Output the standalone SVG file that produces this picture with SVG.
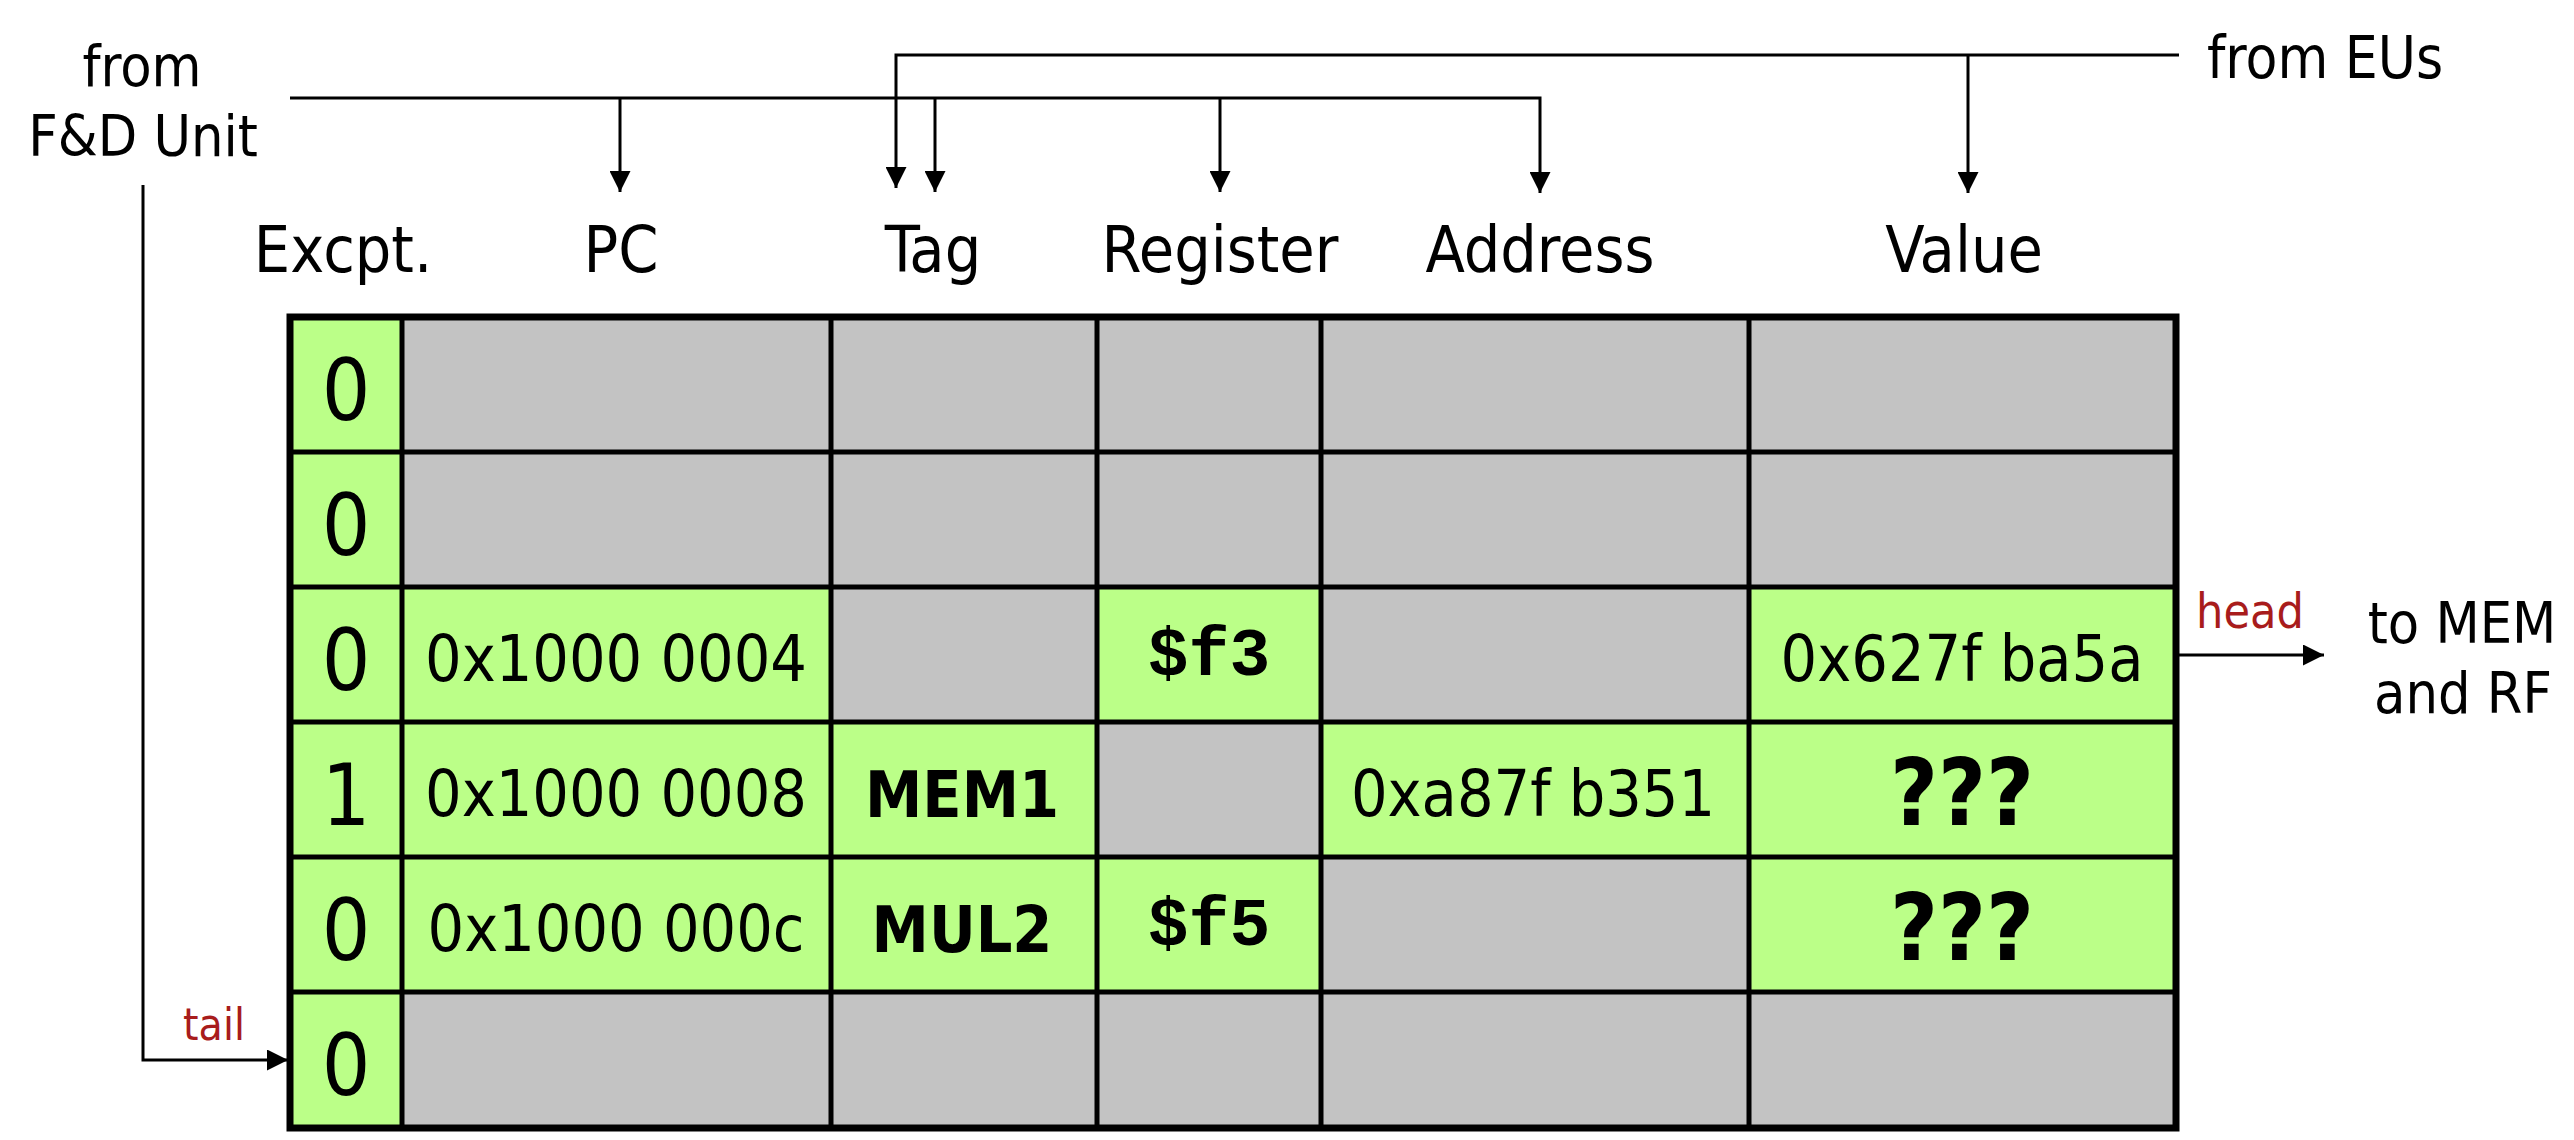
<svg xmlns="http://www.w3.org/2000/svg" width="2574" height="1140" viewBox="0 0 2574 1140">
<style>
.t{font-family:'DejaVu Sans Condensed','DejaVu Sans',sans-serif;font-stretch:condensed;fill:#000}
.m{font-family:'Liberation Mono','Courier New',monospace;font-weight:bold;fill:#000}
.b{font-weight:bold}
.red{fill:#A81C1C}
.g{fill:#BBFF88}
.s{fill:#C3C3C3}
.w{stroke:#000;stroke-width:3;fill:none}
.grid{stroke:#000;stroke-width:5;fill:none}
</style>
<defs>
<marker id="ah" viewBox="0 0 10 10" refX="10" refY="5" markerWidth="7" markerHeight="7" orient="auto" markerUnits="strokeWidth">
<path d="M0,0 L10,5 L0,10 z" fill="#000"/>
</marker>
</defs>
<rect width="2574" height="1140" fill="#fff"/>

<g id="labels" text-anchor="middle" font-size="57">
<text class="t" x="142" y="86">from</text>
<text class="t" x="143" y="156">F&amp;D Unit</text>
<text class="t" x="2207" y="78" text-anchor="start" font-size="58">from EUs</text>
<text class="t" x="2462" y="643">to MEM</text>
<text class="t" x="2463" y="713">and RF</text>
<text class="t red" x="2250" y="628" font-size="48">head</text>
<text class="t red" x="214" y="1040" font-size="44">tail</text>
</g>

<g id="headers" text-anchor="middle" font-size="64">
<text class="t" x="343" y="272">Excpt.</text>
<text class="t" x="621" y="272">PC</text>
<text class="t" x="933" y="272">Tag</text>
<text class="t" x="1220" y="272">Register</text>
<text class="t" x="1540" y="272">Address</text>
<text class="t" x="1964" y="272">Value</text>
</g>

<g id="connectors">
<path class="w" d="M290,98 H1540 V193" marker-end="url(#ah)"/>
<path class="w" d="M620,98 V192" marker-end="url(#ah)"/>
<path class="w" d="M935,98 V192" marker-end="url(#ah)"/>
<path class="w" d="M1220,98 V192" marker-end="url(#ah)"/>
<path class="w" d="M2179,55 H896 V188" marker-end="url(#ah)"/>
<path class="w" d="M1968,55 V193" marker-end="url(#ah)"/>
<path class="w" d="M143,185 V1060 H288" marker-end="url(#ah)"/>
<path class="w" d="M2176,655 H2324" marker-end="url(#ah)"/>
</g>

<g id="rob" text-anchor="middle">
<g id="row0">
<rect class="g" x="290" y="317" width="112" height="135"/>
<rect class="s" x="402" y="317" width="1774" height="135"/>
<text class="t" x="346" y="420" font-size="85">0</text>
</g>
<g id="row1">
<rect class="g" x="290" y="452" width="112" height="135"/>
<rect class="s" x="402" y="452" width="1774" height="135"/>
<text class="t" x="346" y="555" font-size="85">0</text>
</g>
<g id="row2">
<rect class="g" x="290" y="587" width="541" height="135"/>
<rect class="s" x="831" y="587" width="266" height="135"/>
<rect class="g" x="1097" y="587" width="224" height="135"/>
<rect class="s" x="1321" y="587" width="428" height="135"/>
<rect class="g" x="1749" y="587" width="427" height="135"/>
<text class="t" x="346" y="690" font-size="85">0</text>
<text class="t" x="616" y="681" font-size="64">0x1000 0004</text>
<text class="m" x="1209" y="675" font-size="68">$f3</text>
<text class="t" x="1962" y="681" font-size="64">0x627f ba5a</text>
</g>
<g id="row3">
<rect class="g" x="290" y="722" width="807" height="135"/>
<rect class="s" x="1097" y="722" width="224" height="135"/>
<rect class="g" x="1321" y="722" width="855" height="135"/>
<text class="t" x="346" y="825" font-size="85">1</text>
<text class="t" x="616" y="816" font-size="64">0x1000 0008</text>
<text class="t b" x="962" y="817" font-size="64">MEM1</text>
<text class="t" x="1533" y="816" font-size="64">0xa87f b351</text>
<text class="t b" x="1962" y="825" font-size="92">???</text>
</g>
<g id="row4">
<rect class="g" x="290" y="857" width="1031" height="135"/>
<rect class="s" x="1321" y="857" width="428" height="135"/>
<rect class="g" x="1749" y="857" width="427" height="135"/>
<text class="t" x="346" y="960" font-size="85">0</text>
<text class="t" x="616" y="951" font-size="64">0x1000 000c</text>
<text class="t b" x="962" y="952" font-size="64">MUL2</text>
<text class="m" x="1209" y="945" font-size="68">$f5</text>
<text class="t b" x="1962" y="960" font-size="92">???</text>
</g>
<g id="row5">
<rect class="g" x="290" y="992" width="112" height="136"/>
<rect class="s" x="402" y="992" width="1774" height="136"/>
<text class="t" x="346" y="1095" font-size="85">0</text>
</g>
<g id="grid">
<path class="grid" d="M290,452 H2176 M290,587 H2176 M290,722 H2176 M290,857 H2176 M290,992 H2176 M402,317 V1128 M831,317 V1128 M1097,317 V1128 M1321,317 V1128 M1749,317 V1128"/>
<rect x="290" y="317" width="1886" height="811" fill="none" stroke="#000" stroke-width="7"/>
</g>
</g>
</svg>
